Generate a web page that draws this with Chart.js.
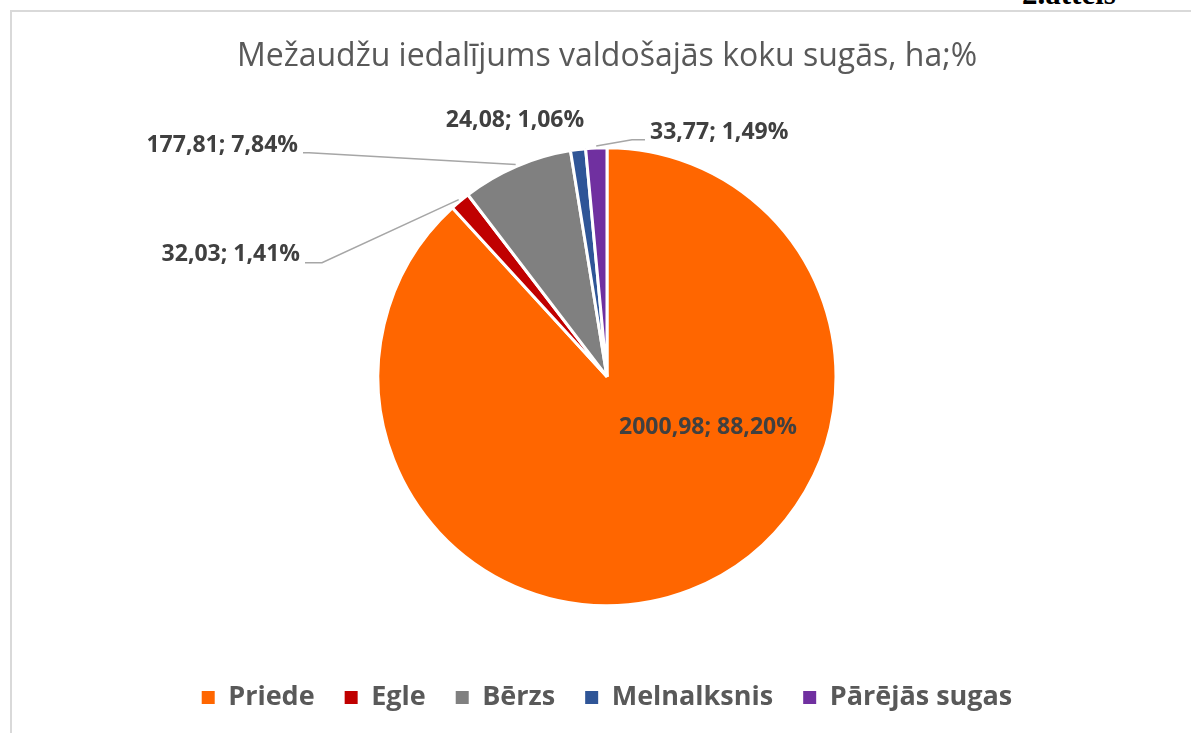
<!DOCTYPE html>
<html>
<head>
<meta charset="utf-8">
<script src="https://cdn.jsdelivr.net/npm/chart.js@4"></script>
<style>
  html, body { margin: 0; padding: 0; background: #fff; }
  body { width: 1191px; height: 733px; position: relative; overflow: hidden; }
  .caption {
    position: absolute; left: 1022px; top: -22px;
    font: bold 31px "Liberation Serif", serif; color: #000; line-height: 31px;
  }
  .frame {
    position: absolute; left: 10px; top: 10px; width: 1181px; height: 723px;
    border-top: 2px solid #d9d9d9; border-left: 2px solid #d9d9d9;
  }
  canvas { display: block; }
</style>
</head>
<body>
<div class="caption">2.attēls</div>
<div class="frame"><canvas id="pieChart" width="1179" height="721"></canvas></div>
<script>
// Chart data
const categories = ["Priede", "Egle", "Bērzs", "Melnalksnis", "Pārējās sugas"];
const areaHa = [2000.98, 32.03, 177.81, 24.08, 33.77];
const sliceColors = ["#FF6600", "#C00000", "#808080", "#2F5597", "#7030A0"];

// Where each data label sits, relative to the pie centre (px)
const labelPlacement = [
  { dx: 101, dy: 51, align: "center", leader: false },
  { dx: -307, dy: -122, align: "right", leader: true, lineDy: 8, elbow: 17 },
  { dx: -309, dy: -231, align: "right", leader: true, lineDy: 7, elbow: 6 },
  { dx: -92, dy: -256, align: "center", leader: false },
  { dx: 43, dy: -244, align: "left", leader: true, lineDy: 7, elbow: -13 }
];

const total = areaHa.reduce((a, b) => a + b, 0);
const fmt = (v) => v.toFixed(2).replace(".", ",");

// Data labels with leader lines
const dataLabels = {
  id: "dataLabels",
  afterDatasetsDraw(chart) {
    const ctx = chart.ctx;
    const arcs = chart.getDatasetMeta(0).data;
    ctx.save();
    ctx.font = "bold 23px 'Open Sans'";
    ctx.textBaseline = "middle";
    arcs.forEach((arc, i) => {
      const { x, y, startAngle, endAngle, outerRadius } = arc.getProps(["x", "y", "startAngle", "endAngle", "outerRadius"], true);
      const p = labelPlacement[i];
      const tx = x + p.dx;
      const ty = y + p.dy;
      const text = fmt(areaHa[i]) + "; " + fmt(areaHa[i] / total * 100) + "%";
      if (p.leader) {
        const mid = (startAngle + endAngle) / 2;
        const ax = x + Math.cos(mid) * (outerRadius + 2);
        const ay = y + Math.sin(mid) * (outerRadius + 2);
        const ly = ty + p.lineDy;
        const endX = p.align === "right" ? tx + 5 : tx - 5;
        ctx.strokeStyle = "#A6A6A6";
        ctx.lineWidth = 1.5;
        ctx.beginPath();
        ctx.moveTo(ax, ay);
        ctx.lineTo(endX + (p.align === "right" ? p.elbow : -Math.abs(p.elbow)), ly);
        ctx.lineTo(endX, ly);
        ctx.stroke();
      }
      ctx.fillStyle = "#404040";
      ctx.textAlign = p.align;
      ctx.fillText(text, tx, ty);
    });
    ctx.restore();
  }
};

new Chart(document.getElementById("pieChart"), {
  type: "pie",
  data: {
    labels: categories,
    datasets: [{
      data: areaHa,
      backgroundColor: sliceColors,
      borderColor: "#ffffff",
      borderWidth: 3,
      radius: 229
    }]
  },
  options: {
    responsive: false,
    animation: false,
    layout: { padding: { left: 11, bottom: 12 } },
    plugins: {
      title: {
        display: true,
        text: "Mežaudžu iedalījums valdošajās koku sugās, ha;%",
        color: "#595959",
        font: { family: "Open Sans", size: 32, weight: "normal" },
        padding: { top: 26, bottom: 23 }
      },
      legend: {
        position: "bottom",
        labels: {
          color: "#595959",
          font: { family: "Open Sans", size: 27, weight: "bold" },
          boxWidth: 13,
          boxHeight: 13,
          padding: 30,
          generateLabels: (chart) =>
            Chart.overrides.pie.plugins.legend.labels.generateLabels(chart)
              .map(item => ({ ...item, lineWidth: 0 }))
        }
      },
      tooltip: { enabled: false }
    }
  },
  plugins: [dataLabels]
});
</script>
</body>
</html>
